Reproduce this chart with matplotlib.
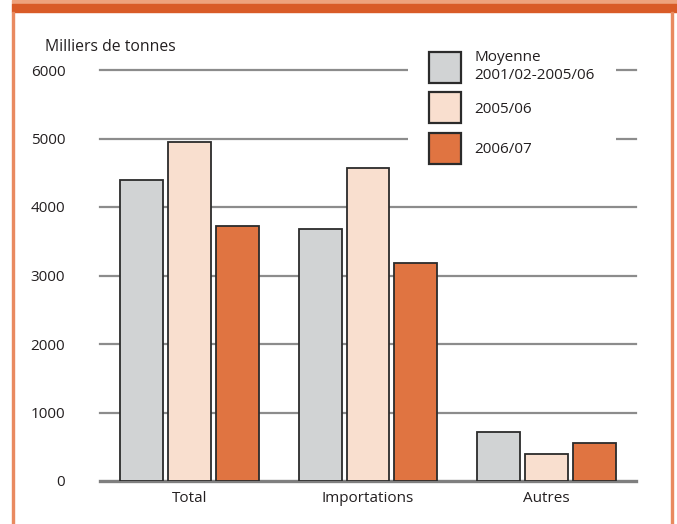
import matplotlib
matplotlib.use("Agg")
import matplotlib.pyplot as plt
from matplotlib.patches import Rectangle
import numpy as np

plt.rcParams['font.family'] = ['Open Sans', 'DejaVu Sans']

categories = ["Total", "Importations", "Autres"]
series_names = ["Moyenne\n2001/02-2005/06", "2005/06", "2006/07"]
moyenne = [4390, 3680, 715]
y2005 = [4950, 4570, 390]
y2006 = [3720, 3180, 555]
yticks = [0, 1000, 2000, 3000, 4000, 5000, 6000]

colors = ["#d1d3d4", "#f9dfcf", "#e07441"]
edge = "#2b2b2b"
text_color = "#231f20"
fs = 11

W, H = 677, 524
fig = plt.figure(figsize=(W / 100, H / 100), dpi=100)

# Page frame: orange header bands and side rules
fig.patches.append(Rectangle((12 / W, 1 - 4 / H), (W - 12) / W, 4 / H,
                             transform=fig.transFigure, color="#eea27c", zorder=0))
fig.patches.append(Rectangle((12 / W, 1 - 12 / H), (W - 12) / W, 8 / H,
                             transform=fig.transFigure, color="#d95b27", zorder=0))
fig.patches.append(Rectangle((12 / W, 0), 2 / W, 1 - 12 / H,
                             transform=fig.transFigure, color="#e98a60", zorder=0))
fig.patches.append(Rectangle((671 / W, 0), 2 / W, 1 - 12 / H,
                             transform=fig.transFigure, color="#e98a60", zorder=0))

left, right = 100, 636
bottom, top = 481, 70
ax = fig.add_axes([left / W, 1 - bottom / H, (right - left) / W, (bottom - top) / H])

x = np.arange(len(categories))
bw = 0.24
step = 0.268
for i, (vals, c, name) in enumerate(zip([moyenne, y2005, y2006], colors, series_names)):
    ax.bar(x + (i - 1) * step, vals, width=bw, color=c, edgecolor=edge,
           linewidth=1.3, label=name, zorder=3)

ax.set_xlim(-0.5, 2.5)
ax.set_ylim(0, 6000)
ax.set_yticks(yticks)
ax.set_yticklabels([str(v) for v in yticks], fontsize=fs, color=text_color)
ax.set_xticks(x)
ax.set_xticklabels(categories, fontsize=fs, color=text_color)
ax.tick_params(axis='y', length=0, pad=25)
ax.tick_params(axis='x', length=0, pad=7)
for s in ax.spines.values():
    s.set_visible(False)

# Horizontal gridlines (unclipped so the top one keeps full width)
for v in yticks[1:]:
    ax.axhline(v, color="#8c8c8c", linewidth=1.6, zorder=1, clip_on=False)
ax.axhline(0, color="#7f7f7f", linewidth=2.4, zorder=2, clip_on=False)

fig.text(45 / W, 1 - 47 / H, "Milliers de tonnes", fontsize=fs + 0.3,
         color=text_color, va="center", ha="left")

leg = ax.legend(loc="upper left",
                bbox_to_anchor=((408 - left) / (right - left), (bottom - 29) / (bottom - top)),
                frameon=True, fontsize=fs, handlelength=2.1, handleheight=2.75,
                handletextpad=0.85, labelspacing=0.62, borderpad=1.4,
                borderaxespad=0)
leg.set_zorder(5)
frame = leg.get_frame()
frame.set_facecolor("white")
frame.set_edgecolor("white")
frame.set_alpha(1)
frame.set_linewidth(0)
frame.set_boxstyle("square", pad=0)
for t in leg.get_texts():
    t.set_color(text_color)
for p in leg.get_patches():
    p.set_linewidth(1.6)

fig.savefig("out.png", dpi=100)
